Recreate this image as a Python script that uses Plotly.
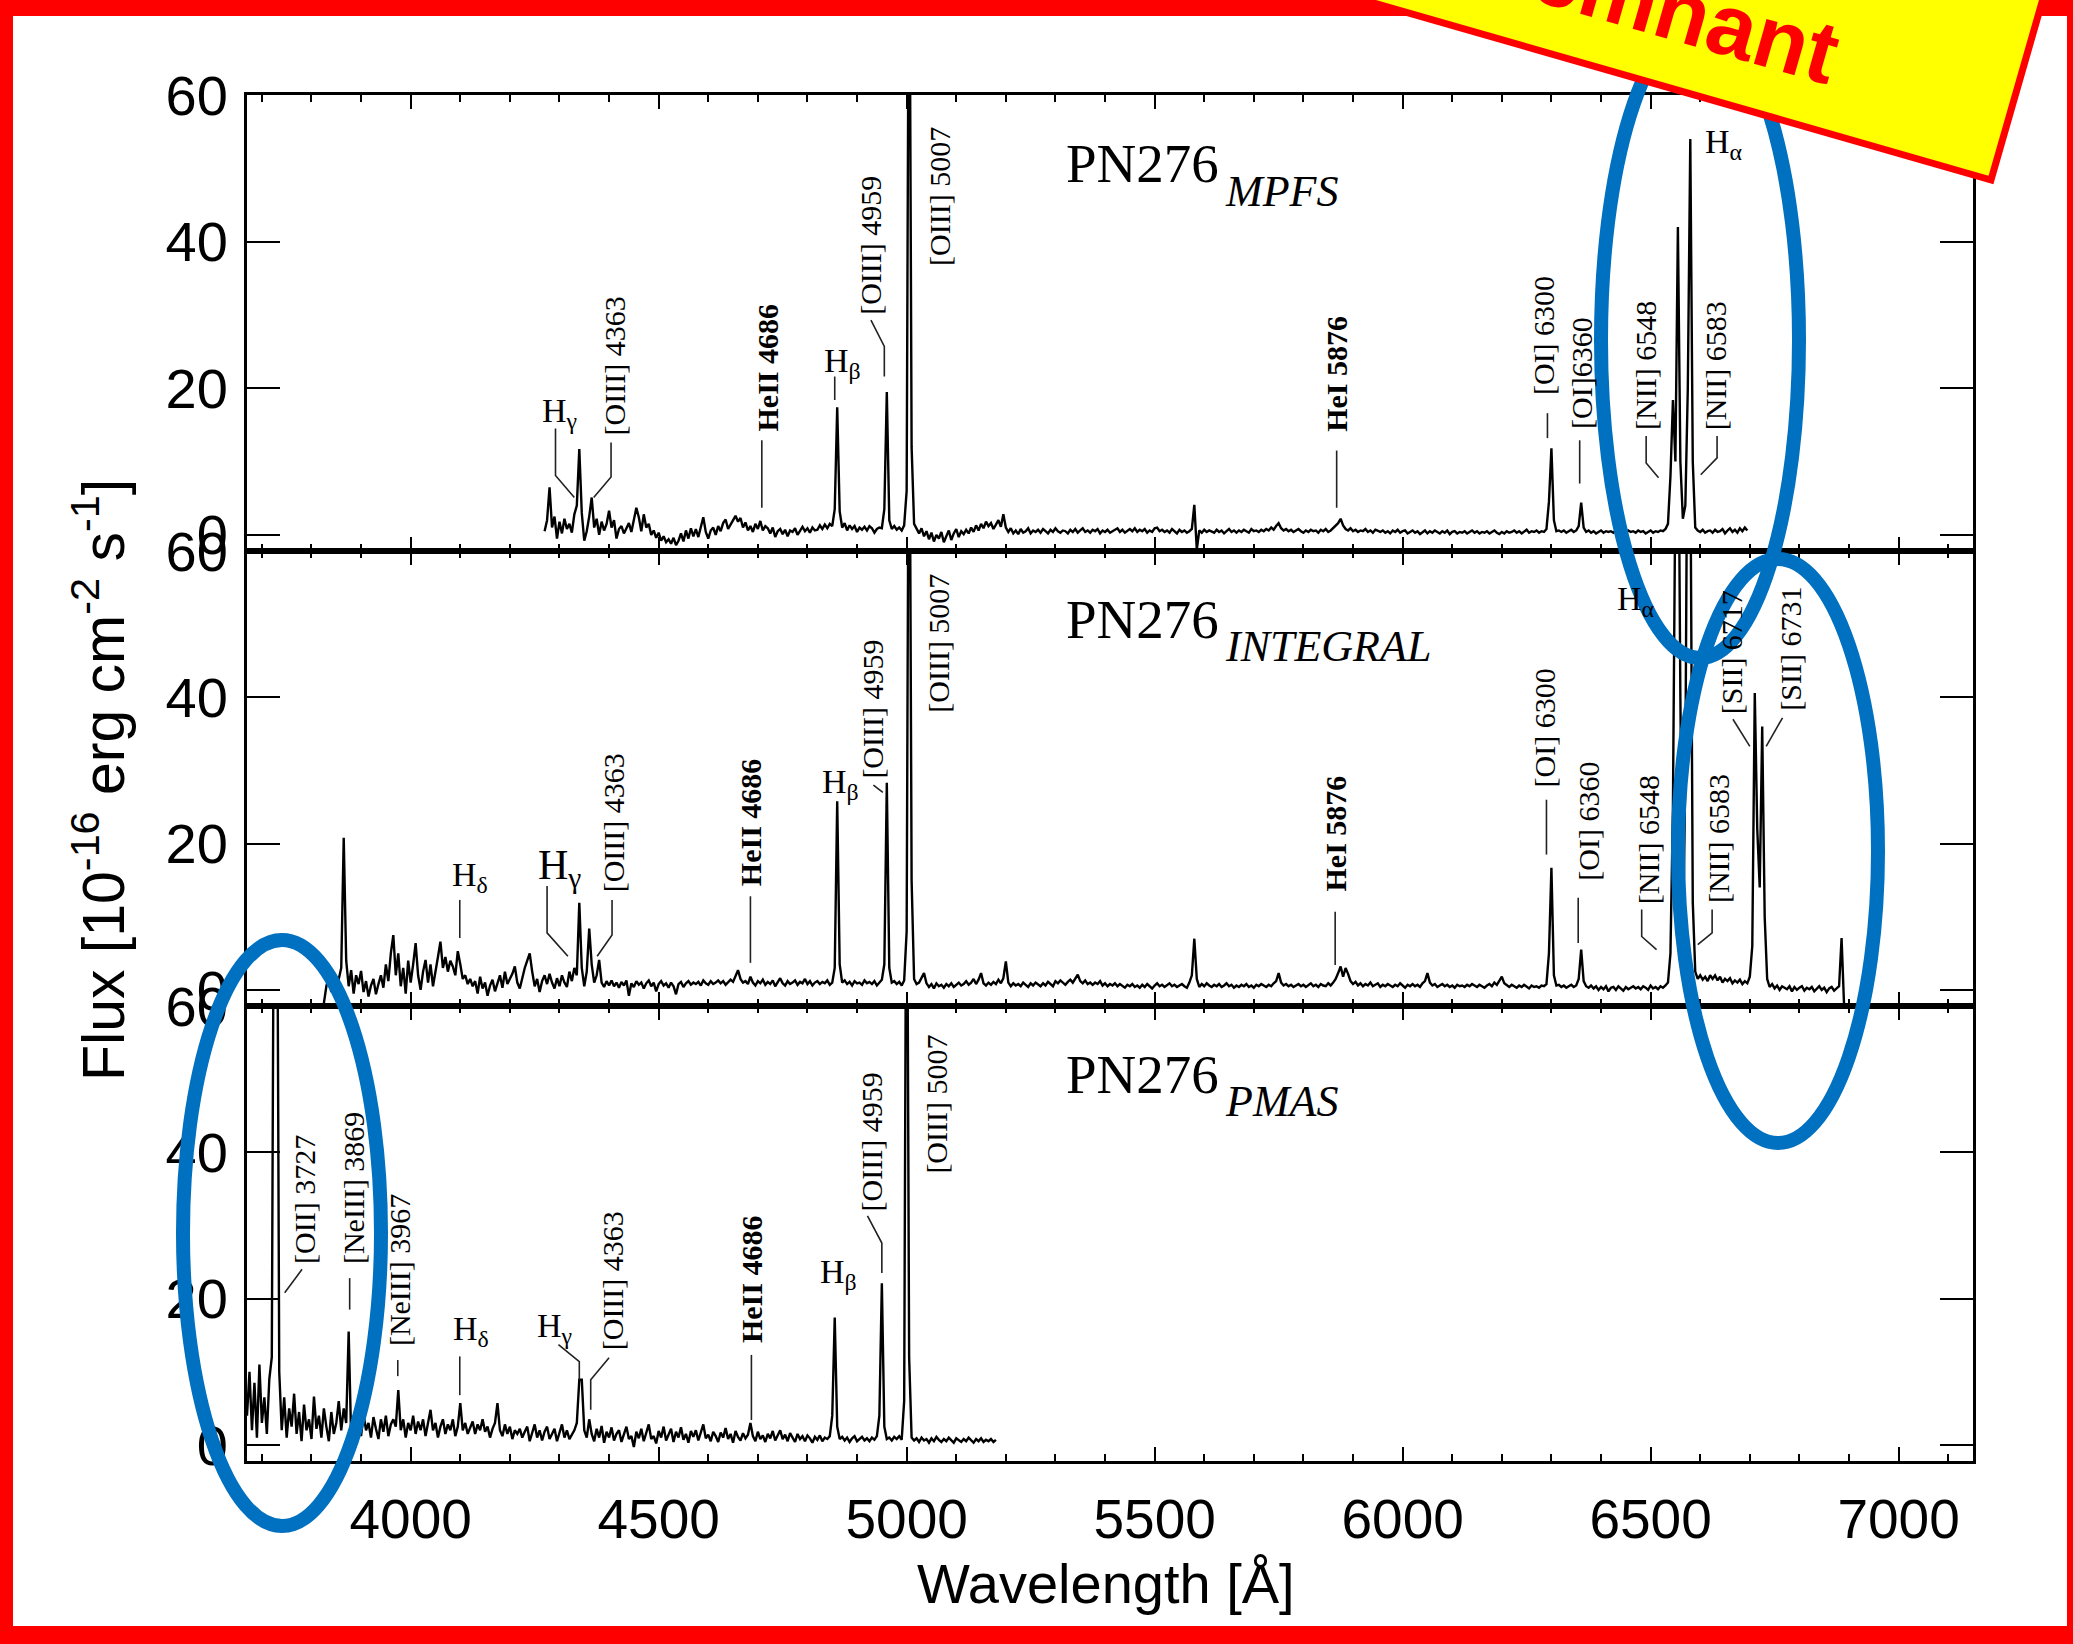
import numpy as np
import plotly.graph_objects as go

W, H = 2073, 1644
STEP = 5.0  # Angstrom per sample

# ---------------- spectra (flux in 1e-16 erg cm^-2 s^-1 A^-1) ----------------
MPFS_START = 4270
MPFS_FLUX = [
    0.5, 2.0, 6.5, 1.0, 2.5, -0.5, 1.8, 0.2, 2.2, 0.8,        # 4270
    1.5, 0.3, 2.8, 4.0, 11.7, 3.0, -0.8, 0.5, 2.5, 5.1,       # 4320
    1.0, 2.2, 0.0, 1.8, 0.6, 1.5, 3.3, 1.0, 2.0, -0.5,        # 4370
    0.8, 1.2, 0.2, 1.0, 1.6, 0.4, 2.0, 3.7, 2.4, 0.5,         # 4420
    2.8, 1.0, 1.5, 0.0, 0.6, -0.4, 0.3, -0.8, -0.2, -1.0,     # 4470
    -0.6, -1.2, -0.4, -1.4, -0.8, 0.2, -0.9, 0.6, -0.5, 0.9,  # 4520
    -0.2, 0.8, -0.3, 1.2, 2.4, 0.4, -0.5, 0.6, 1.0, 0.0,      # 4570
    1.2, 0.5, 1.6, 2.1, 0.8, 1.4, 2.0, 2.6, 1.8, 2.3,         # 4620
    1.0, 1.7, 0.6, 1.2, 0.4, 1.5, 0.8, 1.9, 0.6, 1.2,         # 4670
    0.9, 0.2, 1.0, -0.3, 0.5, 0.8, 0.1, 0.7, -0.2, 0.6,       # 4720
    0.4, 0.9, 0.0, 0.6, 1.1, 0.5, 0.9, 0.3, 1.0, 0.6,         # 4770
    0.7, 1.3, 0.8, 1.4, 0.9, 1.5, 1.2, 3.5, 17.4, 3.2,        # 4820
    1.0, 1.6, 0.6, 1.3, 0.8, 1.2, 0.4, 1.0, 0.7, 1.1,         # 4870
    0.6, 1.2, 0.9, 0.3, 0.8, 1.0, 0.9, 3.5, 19.5, 2.0,        # 4920
    0.8, 1.2, 0.7, 1.0, 0.6, 1.3, 6.0, 95.0, 12.0, 1.5,       # 4970
    0.8, 0.2, 0.9, -0.2, 0.5, -0.6, 0.3, -0.9, 0.0, -0.5,     # 5020
    0.4, -1.0, -0.2, 0.6, -0.7, 0.2, 0.8, -0.3, 0.5, 0.1,     # 5070
    0.7, 0.2, 1.0, 0.4, 1.3, 0.6, 1.5, 0.9, 1.8, 1.2,         # 5120
    1.6, 0.8, 1.4, 2.0, 1.1, 2.8, 1.0, 0.4, 0.9, 0.2,         # 5170
    0.6, 0.1, 0.8, 0.3, 0.5, 0.9, 0.2, 0.6, 0.4, 0.7,         # 5220
    0.3, 0.8, 0.5, 0.2, 0.7, 0.4, 0.9, 0.5, 0.3, 0.6,         # 5270
    0.5, 0.2, 0.7, 0.4, 0.8, 0.3, 0.6, 0.9, 0.4, 0.6,         # 5320
    0.3, 0.7, 0.5, 0.8, 0.2, 0.6, 0.4, 0.7, 0.3, 0.5,         # 5370
    0.6, 0.9, 0.4, 0.7, 0.3, 0.6, 0.8, 0.5, 0.9, 0.4,         # 5420
    0.7, 0.5, 0.8, 0.3, 0.6, 0.4, 0.9, 1.0, 0.5, 0.7,         # 5470
    0.4, 0.6, 0.3, 0.8, 0.5, 0.2, 0.7, 0.4, 0.6, 0.3,         # 5520
    0.5, 0.8, 4.1, -2.0, 0.6, 0.3, 0.7, 0.4, 0.6, 0.5,        # 5570
    0.3, 0.7, 0.4, 0.6, 0.2, 0.5, 0.8, 0.4, 0.6, 0.3,         # 5620
    0.6, 0.4, 0.7, 0.5, 0.3, 0.8, 0.5, 0.6, 0.4, 0.7,         # 5670
    0.5, 0.8, 0.6, 1.0, 0.7, 1.2, 1.6, 0.9, 0.6, 0.8,         # 5720
    0.5, 0.7, 0.4, 0.6, 0.8, 0.5, 0.3, 0.6, 0.4, 0.7,         # 5770
    0.5, 0.6, 0.3, 0.7, 0.5, 0.8, 0.4, 0.6, 0.9, 1.2,         # 5820
    1.6, 2.2, 1.3, 0.8, 0.6, 0.9, 0.5, 0.7, 0.4, 0.6,         # 5870
    0.5, 0.8, 0.4, 0.6, 0.3, 0.7, 0.5, 0.4, 0.6, 0.3,         # 5920
    0.5, 0.2, 0.6, 0.4, 0.7, 0.3, 0.5, 0.6, 0.2, 0.4,         # 5970
    0.6, 0.3, 0.5, 0.1, 0.4, 0.6, 0.2, 0.5, 0.3, 0.6,         # 6020
    0.4, 0.2, 0.5, 0.3, 0.6, 0.1, 0.4, 0.5, 0.2, 0.4,         # 6070
    0.3, 0.5, 0.2, 0.4, 0.6, 0.3, 0.5, 0.2, 0.4, 0.3,         # 6120
    0.5, 0.2, 0.4, 0.6, 0.3, 0.1, 0.4, 0.2, 0.5, 0.3,         # 6170
    0.4, 0.6, 0.3, 0.5, 0.2, 0.4, 0.7, 0.3, 0.5, 0.4,         # 6220
    0.6, 0.3, 0.5, 0.4, 0.8, 4.5, 11.8, 2.0, 0.5, 0.6,        # 6270
    0.4, 0.6, 0.3, 0.5, 0.7, 0.4, 0.6, 1.2, 4.4, 1.0,         # 6320
    0.4, 0.6, 0.3, 0.5, 0.2, 0.4, 0.6, 0.3, 0.5, 0.4,         # 6370
    0.5, 0.3, 0.6, 0.4, 0.2, 0.5, 0.3, 0.6, 0.4, 0.5,         # 6420
    0.3, 0.6, 0.4, 0.5, 0.2, 0.4, 0.6, 0.3, 0.5, 0.4,         # 6470
    0.6, 0.5, 0.8, 1.5, 8.0, 18.4, 10.0, 42.0, 10.0, 2.2,     # 6520
    4.0, 20.0, 54.0, 10.0, 1.0, 0.6, 0.4, 0.7, 0.3, 0.5,      # 6570
    0.6, 0.3, 0.7, 0.4, 0.5, 0.8, 0.2, 0.6, 0.9, 0.4,         # 6620
    0.7, 0.3, 0.9, 0.5, 1.0, 0.6,                             # 6670
]

INTEGRAL_START = 3825
INTEGRAL_FLUX = [
    -1.8, 0.5, 1.8, -0.3, 2.5, 0.2, 1.5, 3.0, 20.8, 4.0,      # 3825
    0.5, 2.7, -0.5, 2.0, 0.8, 2.6, -0.3, 1.2, -0.9, 0.6,      # 3875
    1.5, -0.6, 0.8, 2.0, 0.3, 3.5, 1.2, 5.0, 7.5, 2.0,        # 3925
    5.0, 0.5, 3.0, -0.5, 4.0, 1.0, 3.5, 6.4, 2.0, 0.0,        # 3975
    2.5, 4.1, 1.0, 3.5, 0.5, 2.8, 4.5, 6.6, 3.0, 4.5,         # 4025
    2.5, 4.0, 3.2, 2.0, 5.3, 3.5, 1.5, 2.0, 0.8, 1.5,         # 4075
    0.5, 1.2, -0.5, 1.8, 0.2, 1.0, -0.8, 0.6, 1.4, -0.2,      # 4125
    1.0, 2.0, 0.3, 2.5, 0.8, 1.5, 2.2, 3.2, 1.0, 0.2,         # 4175
    1.8, 3.0, 4.0, 5.0, 2.5, 0.5, 1.5, -0.3, 1.2, 2.0,        # 4225
    0.8, 2.2, 1.0, 0.2, 1.6, 0.5, 2.0, 1.0, 0.4, 2.5,         # 4275
    1.2, 3.0, 2.0, 11.9, 3.0, 0.5, 2.5, 8.4, 3.5, 1.0,        # 4325
    2.0, 4.1, 1.0, 0.4, 1.2, 0.6, 1.3, 0.5, 1.0, 0.3,         # 4375
    1.1, 0.6, 1.3, -0.8, 0.9, 0.4, 1.2, 0.7, 1.0, 0.2,        # 4425
    0.9, 1.3, 0.5, 1.0, -0.2, 0.8, 1.2, 0.6, 0.9, 0.3,        # 4475
    1.0, 0.5, -0.6, 0.8, 1.1, 0.4, 0.9, 1.2, 0.7, 1.0,        # 4525
    0.8, 1.1, 0.6, 1.3, 0.9, 0.7, 1.2, 0.8, 1.0, 1.3,         # 4575
    0.9, 1.2, 0.7, 1.0, 1.4, 1.1, 2.0, 2.7, 1.5, 1.0,         # 4625
    1.2, 0.8, 1.8, 1.0, 0.6, 1.2, 0.9, 1.4, 0.7, 1.1,         # 4675
    0.8, 1.3, 0.5, 1.0, 1.6, 0.9, 0.6, 1.2, 0.8, 1.0,         # 4725
    1.3, 0.7, 1.1, 0.9, 1.5, 0.8, 1.2, 0.6, 1.0, 1.2,         # 4775
    0.8, 1.1, 0.9, 1.3, 0.7, 1.0, 3.0, 25.8, 3.5, 1.0,        # 4825
    1.3, 0.8, 1.1, 0.6, 1.2, 0.9, 1.0, 0.7, 1.3, 0.9,         # 4875
    1.1, 0.8, 1.2, 0.6, 1.0, 1.4, 3.5, 28.3, 3.0, 1.0,        # 4925
    1.2, 0.8, 1.1, 0.6, 1.3, 8.0, 98.0, 15.0, 1.5, 0.8,       # 4975
    1.0, 1.6, 2.3, 0.9, 0.4, 0.8, 0.2, 0.9, 0.5, 0.7,         # 5025
    0.3, 0.8, 0.5, 0.9, 0.4, 0.7, 1.0, 0.6, 0.8, 1.2,         # 5075
    0.7, 1.0, 1.5, 0.8, 1.4, 2.3, 0.9, 0.6, 1.0, 0.7,         # 5125
    1.1, 0.8, 1.4, 0.9, 1.6, 3.9, 1.0, 0.5, 0.9, 0.6,         # 5175
    0.8, 0.5, 1.0, 0.7, 0.4, 0.9, 0.6, 1.0, 0.7, 0.5,         # 5225
    0.9, 0.6, 1.1, 0.8, 0.5, 1.2, 0.9, 1.3, 1.0, 0.7,         # 5275
    1.1, 1.4, 1.0, 1.6, 2.1, 1.2, 0.9, 1.3, 0.8, 1.0,         # 5325
    0.7, 1.0, 0.8, 1.2, 0.6, 0.9, 0.5, 0.8, 0.6, 0.9,         # 5375
    0.5, 0.8, 0.6, 0.3, 0.7, 0.5, 0.8, 0.4, 0.6, 0.3,         # 5425
    0.7, 0.4, 0.8, 0.5, 0.2, 0.6, 0.9, 0.5, 0.7, 0.4,         # 5475
    0.6, 0.9, 0.5, 0.7, 0.4, 0.6, 0.8, 0.5, 0.3, 1.0,         # 5525
    2.0, 7.0, 1.5, 0.4, 0.8, 0.5, 0.9, 0.6, 0.4, 0.7,         # 5575
    0.5, 0.8, 0.4, 0.6, 0.9, 0.5, 0.7, 0.3, 0.6, 0.4,         # 5625
    0.7, 0.5, 0.8, 0.4, 0.6, 0.3, 0.7, 0.5, 0.8, 0.6,         # 5675
    0.4, 0.7, 0.5, 0.9, 1.2, 2.3, 1.0, 0.6, 0.8, 0.5,         # 5725
    0.7, 0.4, 0.6, 0.8, 0.5, 0.7, 0.4, 0.6, 0.9, 0.5,         # 5775
    0.7, 0.4, 0.8, 0.6, 0.5, 0.9, 0.6, 1.0, 1.5, 2.3,         # 5825
    3.2, 1.8, 3.0, 2.2, 1.2, 0.8, 1.1, 0.6, 0.9, 0.5,         # 5875
    0.8, 0.6, 1.0, 0.5, 0.7, 0.9, 0.4, 0.7, 0.5, 0.8,         # 5925
    0.6, 0.4, 0.7, 0.5, 0.9, 0.6, 0.3, 0.7, 0.5, 0.8,         # 5975
    0.5, 0.7, 0.4, 0.9, 1.2, 2.3, 1.0, 0.6, 0.8, 0.4,         # 6025
    0.6, 0.8, 0.5, 0.7, 0.4, 0.6, 0.3, 0.7, 0.5, 0.6,         # 6075
    0.4, 0.7, 0.5, 0.8, 0.6, 0.4, 0.7, 0.5, 0.3, 0.6,         # 6125
    0.8, 0.5, 1.0, 0.7, 1.3, 1.8, 0.9, 0.6, 0.4, 0.7,         # 6175
    0.5, 0.3, 0.6, 0.4, 0.7, 0.5, 0.2, 0.6, 0.4, 0.5,         # 6225
    0.3, 0.6, 0.5, 0.8, 5.0, 16.7, 2.0, 0.6, 0.7, 0.4,        # 6275
    0.6, 0.3, 0.5, 0.7, 0.4, 0.6, 1.5, 5.5, 1.2, 0.5,         # 6325
    0.3, 0.6, 0.2, 0.5, 0.0, 0.4, 0.1, 0.5, -0.2, 0.3,        # 6375
    0.4, 0.0, 0.5, 0.2, -0.1, 0.4, 0.1, 0.3, 0.5, 0.2,        # 6425
    0.4, 0.1, 0.5, 0.3, 0.0, 0.6, 0.2, 0.4, 0.1, 0.5,         # 6475
    0.3, 0.6, 1.0, 5.0, 25.0, 70.0, 90.0, 40.0, 4.0, 30.0,    # 6525
    90.0, 75.0, 12.0, 2.5, 1.5, 2.0, 1.4, 1.8, 1.2, 2.0,      # 6575
    1.5, 2.0, 1.3, 1.8, 1.0, 1.5, 1.2, 1.6, 0.9, 1.3,         # 6625
    1.0, 1.4, 0.8, 1.2, 0.9, 1.8, 6.0, 40.6, 22.0, 14.0,      # 6675
    36.0, 10.0, 1.5, 0.4, 0.8, 0.2, 0.6, 0.0, 0.5, 0.3,       # 6725
    0.1, 0.5, -0.2, 0.4, 0.0, 0.3, 0.5, -0.1, 0.3, 0.1,       # 6775
    0.4, -0.2, 0.2, 0.5, 0.0, 0.3, -0.3, 0.2, 0.4, -0.1,      # 6825
    0.2, 0.5, 7.1, -2.0,                                      # 6875
]

PMAS_START = 3670
PMAS_FLUX = [
    4.0, 10.0, 2.0, 8.5, 1.0, 11.0, 3.0, 6.5, 1.5, 9.0,       # 3670
    12.0, 95.0, 95.0, 10.0, 2.0, 6.5, 1.0, 5.0, 2.5, 7.0,     # 3720
    1.5, 4.5, 0.5, 5.5, 2.0, 3.5, 0.8, 6.6, 2.2, 4.0,         # 3770
    1.0, 5.0, 2.5, 0.5, 4.5, 1.5, 3.0, 6.0, 2.0, 5.0,         # 3820
    3.0, 15.5, 1.0, 4.0, 2.0, 3.5, 1.2, 4.2, 2.0, 3.0,        # 3870
    1.0, 3.8, 2.2, 0.8, 3.5, 1.8, 4.0, 1.2, 2.8, 3.5,         # 3920
    2.5, 7.5, 2.0, 3.5, 1.0, 3.0, 2.0, 4.0, 1.5, 3.2,         # 3970
    2.0, 3.5, 1.2, 2.8, 4.8, 2.0, 3.0, 1.0, 2.5, 3.5,         # 4020
    1.5, 2.8, 2.0, 3.5, 1.2, 2.5, 5.7, 2.0, 3.0, 1.5,         # 4070
    2.5, 3.2, 1.5, 2.8, 2.0, 3.5, 1.8, 2.5, 1.0, 2.2,         # 4120
    3.0, 5.7, 2.0, 1.2, 2.8, 1.5, 2.5, 0.8, 2.0, 1.5,         # 4170
    2.2, 1.0, 1.8, 2.5, 0.5, 1.5, 2.8, 1.0, 2.0, 0.6,         # 4220
    1.8, 2.5, 0.8, 1.5, 2.2, 0.5, 1.6, 2.8, 1.0, 2.0,         # 4270
    0.8, 1.5, 2.0, 3.0, 8.9, 8.9, 2.0, 1.0, 3.5, 1.5,         # 4320
    0.5, 2.2, 1.0, 2.6, 0.3, 1.8, 1.0, 2.4, 0.6, 1.5,         # 4370
    2.0, 0.4, 1.6, 2.5, 0.8, 1.2, -0.3, 1.8, 0.9, 2.2,        # 4420
    0.5, 1.5, 2.8, 0.8, 1.2, 0.2, 1.9, 1.0, 2.5, 0.6,         # 4470
    1.4, 2.2, 0.4, 1.8, 1.0, 2.4, 0.7, 1.5, 0.3, 1.9,         # 4520
    1.1, 2.0, 0.6, 1.6, 2.8, 0.9, 1.4, 0.5, 1.8, 1.2,         # 4570
    0.4, 1.7, 1.0, 2.3, 0.8, 1.5, 0.3, 1.9, 1.1, 0.6,         # 4620
    1.6, 0.9, 1.4, 3.0, 1.2, 0.5, 1.8, 0.8, 1.3, 0.4,         # 4670
    1.5, 0.9, 1.9, 0.6, 1.2, 2.0, 0.8, 1.4, 0.5, 1.6,         # 4720
    1.0, 0.4, 1.5, 0.8, 1.2, 0.5, 1.3, 0.9, 0.3, 1.1,         # 4770
    0.7, 1.3, 0.5, 1.0, 0.8, 1.2, 4.0, 17.4, 2.5, 0.8,        # 4820
    1.1, 0.6, 1.0, 0.4, 0.9, 1.2, 0.5, 0.8, 1.1, 0.6,         # 4870
    0.9, 0.5, 1.0, 0.7, 1.2, 4.0, 22.1, 2.5, 0.8, 1.0,        # 4920
    0.6, 1.1, 0.8, 1.2, 0.7, 6.0, 98.0, 12.0, 1.0, 0.6,       # 4970
    0.9, 0.4, 1.0, 0.6, 0.8, 0.3, 0.9, 0.5, 1.1, 0.7,         # 5020
    0.4, 0.8, 0.5, 1.0, 0.6, 0.3, 0.9, 0.7, 0.4, 0.8,         # 5070
    0.5, 1.0, 0.6, 0.3, 0.8, 0.5, 0.9, 0.4, 0.7, 0.5,         # 5120
    0.8, 0.4, 0.7,                                            # 5170
]

# ---------------- line identifications ----------------
# vertical labels: (text, wavelength of label centre, flux at label foot)
MPFS_IDS = [
    ("[OIII] 4363", 4411, 13.3),
    ("<b>HeII 4686</b>", 4720, 13.8),
    ("[OIII] 4959", 4928, 29.8),
    ("[OIII] 5007", 5066, 36.4),
    ("<b>HeI 5876</b>", 5868, 13.8),
    ("[OI] 6300", 6284, 18.8),
    ("[OI]6360", 6362, 14.2),
    ("[NII] 6548", 6491, 14.0),
    ("[NII] 6583", 6631, 14.0),
]
INTEGRAL_IDS = [
    ("[OIII] 4363", 4408, 13.0),
    ("<b>HeII 4686</b>", 4684, 13.9),
    ("[OIII] 4959", 4931, 28.6),
    ("[OIII] 5007", 5064, 37.6),
    ("<b>HeI 5876</b>", 5864, 13.2),
    ("[OI] 6300", 6286, 27.4),
    ("[OI] 6360", 6374, 14.6),
    ("[NII] 6548", 6495, 11.4),
    ("[NII] 6583", 6637, 11.6),
    ("[SII] 6717", 6662, 37.4),
    ("[SII] 6731", 6783, 37.9),
]
PMAS_IDS = [
    ("[OII] 3727", 3787, 24.4),
    ("[NeIII] 3869", 3885, 24.4),
    ("[NeIII] 3967", 3978, 13.2),
    ("[OIII] 4363", 4406, 12.6),
    ("<b>HeII 4686</b>", 4687, 13.7),
    ("[OIII] 4959", 4930, 31.7),
    ("[OIII] 5007", 5060, 36.8),
]

# Balmer labels: (text, wavelength, flux at text centre, font size)
MPFS_BALMER = [("H<sub>γ</sub>", 4300, 16.6, 34), ("H<sub>β</sub>", 4870, 23.4, 34),
               ("H<sub>α</sub>", 6646, 53.3, 34)]
INTEGRAL_BALMER = [("H<sub>δ</sub>", 4120, 15.4, 34), ("H<sub>γ</sub>", 4300, 16.6, 42),
                   ("H<sub>β</sub>", 4867, 28.1, 34), ("H<sub>α</sub>", 6470, 53.2, 34)]
PMAS_BALMER = [("H<sub>δ</sub>", 4122, 15.6, 34), ("H<sub>γ</sub>", 4290, 16.0, 34),
               ("H<sub>β</sub>", 4863, 23.3, 34)]

# leader lines joining labels to their lines: lists of (wavelength, flux)
MPFS_LEADERS = [
    [(4292, 14.5), (4292, 8.1), (4330, 5.1)],
    [(4404, 12.6), (4404, 7.9), (4369, 5.1)],
    [(4708, 12.9), (4708, 3.7)],
    [(4855, 21.6), (4855, 18.4)],
    [(4928, 29.3), (4955, 25.7), (4955, 21.6)],
    [(5867, 11.5), (5867, 3.7)],
    [(6292, 16.6), (6292, 13.2)],
    [(6357, 12.9), (6357, 7.0)],
    [(6491, 13.5), (6491, 9.8), (6516, 7.8)],
    [(6634, 13.5), (6634, 10.5), (6601, 8.2)],
]
INTEGRAL_LEADERS = [
    [(4099, 12.3), (4099, 7.1)],
    [(4275, 14.2), (4275, 7.8), (4317, 4.6)],
    [(4406, 12.3), (4406, 7.5), (4376, 4.6)],
    [(4685, 12.8), (4685, 3.7)],
    [(4933, 28.0), (4952, 27.0)],
    [(5864, 10.7), (5864, 3.4)],
    [(6290, 26.0), (6290, 18.5)],
    [(6354, 12.6), (6354, 6.4)],
    [(6482, 11.0), (6482, 7.3), (6512, 5.5)],
    [(6624, 11.0), (6624, 7.8), (6595, 6.2)],
    [(6666, 37.0), (6700, 33.3)],
    [(6766, 37.2), (6733, 33.3)],
]
PMAS_LEADERS = [
    [(3781, 24.0), (3746, 20.8)],
    [(3877, 22.8), (3877, 18.5)],
    [(3974, 11.6), (3974, 9.4)],
    [(4099, 12.1), (4099, 6.8)],
    [(4298, 13.7), (4340, 11.4), (4340, 8.9)],
    [(4400, 11.9), (4363, 8.9), (4363, 4.8)],
    [(4687, 12.3), (4687, 3.4)],
    [(4921, 31.3), (4950, 27.6), (4950, 23.5)],
]

PANELS = [
    ("MPFS", MPFS_START, MPFS_FLUX, MPFS_IDS, MPFS_BALMER, MPFS_LEADERS),
    ("INTEGRAL", INTEGRAL_START, INTEGRAL_FLUX, INTEGRAL_IDS, INTEGRAL_BALMER, INTEGRAL_LEADERS),
    ("PMAS", PMAS_START, PMAS_FLUX, PMAS_IDS, PMAS_BALMER, PMAS_LEADERS),
]

X_RANGE = [3670, 7150]
Y_RANGE = [-2.2, 60]
Y_TICKS = [0, 20, 40, 60]

# ---------------- layout geometry (pixels) ----------------
PLOT_LEFT, PLOT_RIGHT = 247, 1973
PANEL_EDGES = [(95, 551), (551, 1006), (1006, 1461)]

SERIF = "Liberation Serif, Times New Roman, serif"
SANS = "Liberation Sans, Arial, Helvetica, sans-serif"
BLUE = "rgb(0,112,192)"


def px(x):
    return x / W


def py(y):
    return 1 - y / H


fig = go.Figure()
annotations = []
layout_axes = {}

for i, (name, start, flux, ids, balmer, leaders) in enumerate(PANELS):
    n = "" if i == 0 else str(i + 1)
    xref, yref = "x" + n, "y" + n
    lam = start + STEP * np.arange(len(flux))
    fig.add_trace(go.Scatter(x=lam, y=flux, mode="lines",
                             line=dict(color="black", width=2.4),
                             xaxis=xref, yaxis=yref, hoverinfo="skip"))
    # leader lines
    lx, ly = [], []
    for seg in leaders:
        for (a, b) in seg:
            lx.append(a)
            ly.append(b)
        lx.append(None)
        ly.append(None)
    fig.add_trace(go.Scatter(x=lx, y=ly, mode="lines",
                             line=dict(color="#222222", width=1.6),
                             xaxis=xref, yaxis=yref, hoverinfo="skip"))

    for text, xc, yb in ids:
        annotations.append(dict(x=xc, y=yb, xref=xref, yref=yref, text=text,
                                textangle=-90, xanchor="center", yanchor="bottom",
                                showarrow=False, font=dict(family=SERIF, size=30, color="black")))
    for text, xc, yc, size in balmer:
        annotations.append(dict(x=xc, y=yc, xref=xref, yref=yref, text=text,
                                xanchor="center", yanchor="middle", showarrow=False,
                                font=dict(family=SERIF, size=size, color="black")))
    # panel title
    annotations.append(dict(x=5317, y=50.6, xref=xref, yref=yref, text="PN276",
                            xanchor="left", yanchor="middle", showarrow=False,
                            font=dict(family=SERIF, size=55, color="black")))
    annotations.append(dict(x=5638, y=46.9, xref=xref, yref=yref, text="<i>" + name + "</i>",
                            xanchor="left", yanchor="middle", showarrow=False,
                            font=dict(family=SERIF, size=44, color="black")))

    top, bot = PANEL_EDGES[i]
    layout_axes["xaxis" + n] = dict(
        domain=[px(PLOT_LEFT), px(PLOT_RIGHT)], range=X_RANGE, anchor=yref,
        showline=True, linecolor="black", linewidth=3, mirror="allticks",
        ticks="inside", ticklen=14, tickwidth=2, tickcolor="black",
        tick0=0, dtick=500, showgrid=False, zeroline=False,
        showticklabels=(i == 2), ticklabelstandoff=8,
        tickfont=dict(family=SANS, size=55, color="black"),
        minor=dict(dtick=100, ticks="inside", ticklen=7, tickwidth=2,
                   tickcolor="black", showgrid=False),
    )
    layout_axes["yaxis" + n] = dict(
        domain=[py(bot), py(top)], range=Y_RANGE, anchor=xref,
        showline=True, linecolor="black", linewidth=3, mirror="allticks",
        ticks="inside", ticklen=33, tickwidth=2, tickcolor="black",
        tickmode="array", tickvals=Y_TICKS, showgrid=False, zeroline=False,
        ticklabelstandoff=5,
        tickfont=dict(family=SANS, size=56, color="black"),
    )

# axis titles
annotations.append(dict(x=px(1106), y=py(1583), xref="paper", yref="paper",
                        text="Wavelength [Å]", showarrow=False,
                        xanchor="center", yanchor="middle",
                        font=dict(family=SANS, size=56, color="black")))
annotations.append(dict(x=px(99), y=py(780), xref="paper", yref="paper",
                        text="Flux [10<sup>-16</sup> erg cm<sup>-2</sup> s<sup>-1</sup>]",
                        textangle=-90, showarrow=False,
                        xanchor="center", yanchor="middle",
                        font=dict(family=SANS, size=59, color="black")))
# banner text
annotations.append(dict(x=px(1655), y=py(4), xref="paper", yref="paper",
                        text="<b>Remnant</b>", textangle=16, showarrow=False,
                        xanchor="center", yanchor="middle",
                        font=dict(family=SANS, size=88, color="red")))

shapes = []
# red frame
for (x0, y0, x1, y1) in [(0, 0, W, 16), (0, 1626, W, H), (0, 0, 13, H), (2067, 0, W, H)]:
    shapes.append(dict(type="rect", xref="paper", yref="paper",
                       x0=px(x0), x1=px(x1), y0=py(y1), y1=py(y0),
                       fillcolor="red", line=dict(width=0), layer="above"))
# highlight ellipses (centre x, centre y, half width, half height) in pixels
for (cx, cy, a, b) in [(1700, 340, 99, 318), (1778, 851, 100, 292), (282, 1233, 99, 293)]:
    shapes.append(dict(type="circle", xref="paper", yref="paper",
                       x0=px(cx - a), x1=px(cx + a), y0=py(cy + b), y1=py(cy - b),
                       line=dict(color=BLUE, width=14), fillcolor="rgba(0,0,0,0)",
                       layer="above"))
# tilted banner
ang = np.deg2rad(16)
along = np.array([-np.cos(ang), -np.sin(ang)])
up = np.array([np.sin(ang), -np.cos(ang)])
p1 = np.array([1991.0, 180.0])
p2 = p1 + 1000 * along
p3 = p2 + 300 * up
p4 = p1 + 300 * up
path = "M " + " L ".join(f"{px(p[0]):.5f},{py(p[1]):.5f}" for p in (p1, p2, p3, p4)) + " Z"
shapes.append(dict(type="path", xref="paper", yref="paper", path=path,
                   fillcolor="#FFFF00", line=dict(color="red", width=7), layer="above"))

fig.update_layout(
    width=W, height=H, autosize=False,
    margin=dict(l=0, r=0, t=0, b=0, pad=0, autoexpand=False),
    paper_bgcolor="white", plot_bgcolor="white",
    showlegend=False,
    annotations=annotations,
    shapes=shapes,
    **layout_axes,
)

fig.write_html("out.html")
